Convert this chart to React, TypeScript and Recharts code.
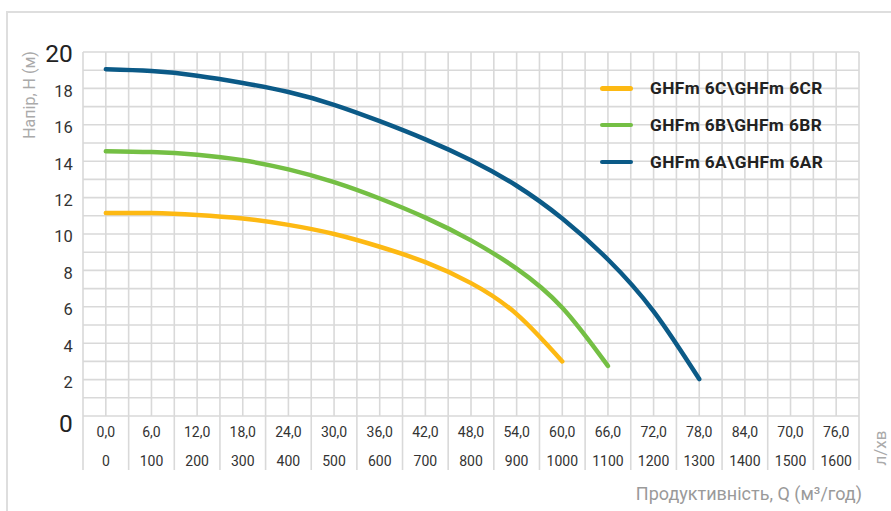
import { CartesianGrid, Line, LineChart, XAxis, YAxis } from "recharts";

// flow points (m³/h) where the head curves are sampled
const flowQ = [0, 6, 12, 18, 24, 30, 36, 42, 48, 54, 60, 66, 72, 78];

// head, m
const head6C = [11.15, 11.15, 11.05, 10.85, 10.5, 10.0, 9.3, 8.45, 7.3, 5.6, 3.0];
const head6B = [14.55, 14.5, 14.35, 14.05, 13.55, 12.85, 11.95, 10.9, 9.65, 8.1, 5.95, 2.75];
const head6A = [19.05, 18.95, 18.7, 18.3, 17.8, 17.1, 16.2, 15.2, 14.05, 12.65, 10.85, 8.6, 5.75, 2.03];

const xTicks = [0, 6, 12, 18, 24, 30, 36, 42, 48, 54, 60, 66, 72, 78, 84, 90, 96];
const m3hLabels = ["0,0", "6,0", "12,0", "18,0", "24,0", "30,0", "36,0", "42,0", "48,0", "54,0", "60,0", "66,0", "72,0", "78,0", "84,0", "70,0", "76,0"];
const lminLabels = ["0", "100", "200", "300", "400", "500", "600", "700", "800", "900", "1000", "1100", "1200", "1300", "1400", "1500", "1600"];
const yTicks = [0, 2, 4, 6, 8, 10, 12, 14, 16, 18, 20];

const W = 891;
const H = 511;
const MARGIN = { top: 52, right: 32, left: 0, bottom: 41 };
const Y_AXIS_W = 83;
const X_AXIS_H = 54;
const X_MIN = -3;
const X_MAX = 99;
const PLOT_BOTTOM = H - MARGIN.bottom - X_AXIS_H;
const PX_PER_Q = (W - MARGIN.right - Y_AXIS_W) / (X_MAX - X_MIN);
const HALF_CELL = 3 * PX_PER_Q;

const GRID = "#d9d9d9";
const gridV = Array.from({ length: 35 }, (_, i) => X_MIN + i * 3);
const gridH = Array.from({ length: 21 }, (_, i) => i);

const toPoints = (heads: number[]) => heads.map((h, i) => ({ q: flowQ[i], h }));

const series = [
  { name: "GHFm 6C\\GHFm 6CR", color: "#FDB913", data: toPoints(head6C) },
  { name: "GHFm 6B\\GHFm 6BR", color: "#74BF44", data: toPoints(head6B) },
  { name: "GHFm 6A\\GHFm 6AR", color: "#0B5A87", data: toPoints(head6A) },
];

function FlowTick(props: any) {
  const { x, payload } = props;
  const i = xTicks.indexOf(payload.value);
  if (i < 0) return null;
  return (
    <g>
      <text x={x} y={PLOT_BOTTOM + 21} textAnchor="middle" fontSize={14} fill="#333">
        {m3hLabels[i]}
      </text>
      <text x={x} y={PLOT_BOTTOM + 50} textAnchor="middle" fontSize={14} fill="#333">
        {lminLabels[i]}
      </text>
      {i === 0 && (
        <line x1={x - HALF_CELL} x2={x - HALF_CELL} y1={PLOT_BOTTOM} y2={PLOT_BOTTOM + 54} stroke={GRID} strokeWidth={1.6} />
      )}
      <line x1={x + HALF_CELL} x2={x + HALF_CELL} y1={PLOT_BOTTOM} y2={PLOT_BOTTOM + 54} stroke={GRID} strokeWidth={1.6} />
    </g>
  );
}

function HeadTick(props: any) {
  const { y, payload } = props;
  const v = payload.value;
  const big = v === 0 || v === 20;
  const dy = v === 0 ? 15.7 : v === 20 ? 10 : 8.4;
  return (
    <text x={72.7} y={y + dy} textAnchor="end" fontSize={big ? 24.5 : 16.5} fill={big ? "#222" : "#333"}>
      {v}
    </text>
  );
}

export default function App() {
  return (
    <div style={{ position: "fixed", left: 0, top: 0, width: W, height: H, fontFamily: "Roboto, sans-serif", background: "#fff", overflow: "hidden" }}>
      <div style={{ position: "absolute", left: 6, top: 11, width: W + 20, height: H + 20, borderLeft: "2px solid #dedede", borderTop: "2px solid #dedede" }} />
      <LineChart width={W} height={H} margin={MARGIN}>
        <CartesianGrid stroke={GRID} strokeWidth={1.6} horizontalValues={gridH} verticalValues={gridV} />
        <XAxis
          dataKey="q"
          type="number"
          domain={[X_MIN, X_MAX]}
          allowDataOverflow
          ticks={xTicks}
          interval={0}
          height={X_AXIS_H}
          axisLine={false}
          tickLine={false}
          tick={<FlowTick />}
        />
        <YAxis
          type="number"
          domain={[0, 20]}
          ticks={yTicks}
          interval={0}
          width={Y_AXIS_W}
          axisLine={false}
          tickLine={false}
          tick={<HeadTick />}
        />
        {series.map((s) => (
          <Line
            key={s.name}
            data={s.data}
            dataKey="h"
            name={s.name}
            type="natural"
            stroke={s.color}
            strokeWidth={4.5}
            strokeLinecap="round"
            dot={false}
            activeDot={false}
            isAnimationActive={false}
          />
        ))}
      </LineChart>
      {/* legend */}
      <div style={{ position: "absolute", left: 600, top: 70 }}>
        {series.map((s) => (
          <div key={s.name} style={{ display: "flex", alignItems: "center", height: 36.75 }}>
            <span style={{ display: "inline-block", width: 33, height: 4.5, borderRadius: 3, background: s.color }} />
            <span style={{ marginLeft: 17, fontWeight: 700, fontSize: 17.3, letterSpacing: 0.4, color: "#222", whiteSpace: "nowrap" }}>{s.name}</span>
          </div>
        ))}
      </div>
      <div style={{ position: "absolute", left: 29, top: 95, transform: "translate(-50%, -50%) rotate(-90deg)", fontSize: 16, color: "#aaa", whiteSpace: "nowrap" }}>
        Напір, Н (м)
      </div>
      <div style={{ position: "absolute", left: 880, top: 448, transform: "translate(-50%, -50%) rotate(-90deg)", fontSize: 17, color: "#aaa", whiteSpace: "nowrap" }}>
        л/хв
      </div>
      <div style={{ position: "absolute", right: W - 862, top: 483, fontSize: 18, color: "#9a9a9a", whiteSpace: "nowrap" }}>
        Продуктивність, Q (м³/год)
      </div>
    </div>
  );
}
